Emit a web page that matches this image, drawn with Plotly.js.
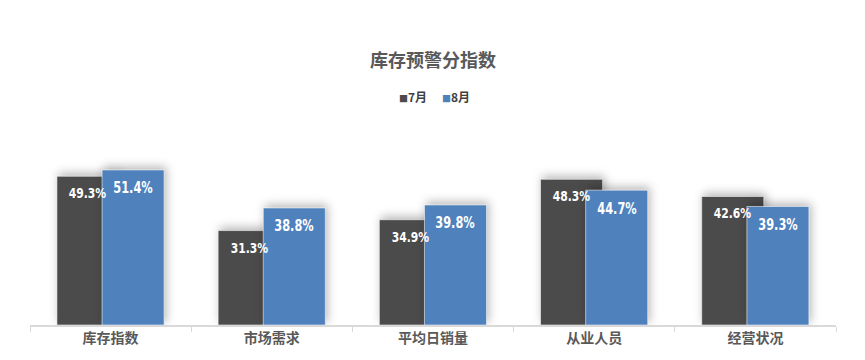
<!DOCTYPE html>
<html>
<head>
<meta charset="utf-8">
<script src="https://cdn.plot.ly/plotly-3.0.1.min.js"></script>
<style>
  html, body { margin: 0; padding: 0; background: #ffffff; }
  #chart { width: 865px; height: 360px; }
  .trace.bars .point path { filter: drop-shadow(2px -3px 5px rgba(0,0,0,0.28)); }
</style>
</head>
<body>
<div id="chart"></div>
<script>
const categories = ['库存指数', '市场需求', '平均日销量', '从业人员', '经营状况'];
const seriesNames = ['7月', '8月'];
const julyValues = [49.3, 31.3, 34.9, 48.3, 42.6];
const augValues = [51.4, 38.8, 39.8, 44.7, 39.3];

const colors = ['#4b4b4b', '#4f81bd'];
const barWidth = 0.385;
const offsets = [-0.333, -0.053];
const catPx = 806 / categories.length;
const labelFont = '"DejaVu Sans", sans-serif';
const cjk = '"Noto Sans CJK SC", "Microsoft YaHei", sans-serif';

const allValues = [julyValues, augValues];
const traces = allValues.map((vals, k) => ({
  type: 'bar',
  name: seriesNames[k],
  x: categories,
  y: vals,
  width: categories.map(() => barWidth),
  offset: categories.map(() => offsets[k]),
  marker: { color: colors[k], line: { color: 'rgba(255,255,255,0.7)', width: 0.8 } },
  hoverinfo: 'x+y',
  showlegend: false
}));

const labelSizes = [13.5, 15];
const labelScale = [0.8, 0.76];
const labelYShift = [-17, -18.5];
const annotations = [];
const labelScaleByIndex = [];
allValues.forEach((vals, k) => {
  vals.forEach((v, i) => {
    labelScaleByIndex.push(labelScale[k]);
    annotations.push({
      x: categories[i], y: v, xref: 'x', yref: 'y',
      xshift: (offsets[k] + barWidth / 2) * catPx,
      yshift: labelYShift[k],
      yanchor: 'middle', xanchor: 'center',
      text: v.toFixed(1) + '%',
      showarrow: false,
      font: { family: labelFont, size: labelSizes[k], color: '#ffffff', weight: 'bold' }
    });
  });
});

// legend drawn as text with coloured squares
const legendX = [-20, 23];
seriesNames.forEach((nm, k) => {
  annotations.push({
    xref: 'paper', yref: 'paper', x: 0.5, y: 1.262,
    xshift: legendX[k],
    xanchor: 'center', yanchor: 'middle', showarrow: false,
    text: '<span style="color:' + colors[k] + ';font-size:9px">■</span><b>' + nm + '</b>',
    font: { family: cjk, size: 12, color: '#404040' }
  });
});

const layout = {
  width: 865, height: 360,
  paper_bgcolor: '#ffffff', plot_bgcolor: '#ffffff',
  margin: { l: 30, r: 29, t: 144, b: 35 },
  barmode: 'overlay',
  title: {
    text: '<b>库存预警分指数</b>',
    x: 0.5, xref: 'paper', xanchor: 'center',
    y: 0.831, yref: 'container', yanchor: 'middle',
    font: { family: cjk, size: 18, color: '#595959' }
  },
  xaxis: {
    type: 'category',
    showline: true, linecolor: '#d9d9d9', linewidth: 1.5,
    ticks: 'outside', tickson: 'boundaries', ticklen: 5, tickcolor: '#d9d9d9', tickwidth: 1,
    showgrid: false, zeroline: false,
    tickfont: { family: cjk, size: 14, color: '#595959', weight: 'bold' },
    fixedrange: true
  },
  yaxis: {
    range: [0, 60], visible: false, showgrid: false, zeroline: false, fixedrange: true
  },
  annotations: annotations,
  showlegend: false
};

function condenseLabels() {
  document.querySelectorAll('#chart g.annotation').forEach(g => {
    const idx = parseInt(g.getAttribute('data-index'), 10);
    if (idx < labelScaleByIndex.length) {
      const t = g.querySelector('text.annotation-text');
      if (t) {
        t.style.transformBox = 'fill-box';
        t.style.transformOrigin = 'center';
        t.style.transform = 'scaleX(' + labelScaleByIndex[idx] + ')';
      }
    }
  });
}

Plotly.newPlot('chart', traces, layout, { displayModeBar: false, staticPlot: true }).then(condenseLabels);
</script>
</body>
</html>
